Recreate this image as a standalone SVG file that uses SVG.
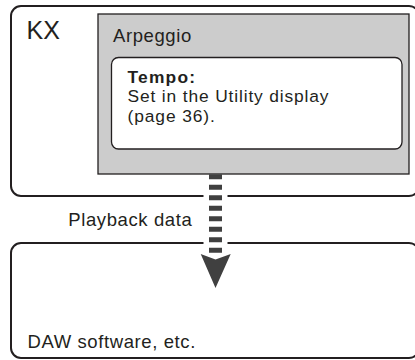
<svg xmlns="http://www.w3.org/2000/svg" width="415" height="360" viewBox="0 0 415 360">
<style>
.box{fill:#ffffff;stroke:#231f20;stroke-width:2}
.grey{fill:#cccccc;stroke:#231f20;stroke-width:1.3}
.inner{fill:#ffffff;stroke:#231f20;stroke-width:1.3}
text{font-family:"Liberation Sans",Arial,sans-serif;fill:#231f20;font-size:18.5px;letter-spacing:0.6px}
.big{font-size:25px;letter-spacing:0}
.t{font-size:17.4px;letter-spacing:0.9px}
.b{font-weight:bold;letter-spacing:1.2px}
</style>
<rect width="415" height="360" fill="#ffffff"/>
<g id="kx">
<rect class="box" x="11" y="6" width="408" height="190" rx="10"/>
<text class="big" x="26.5" y="39">KX</text>
</g>
<g id="arpeggio">
<rect class="grey" x="98" y="14" width="311" height="160"/>
<text x="113" y="41.7">Arpeggio</text>
</g>
<g id="tempo">
<rect class="inner" x="111.5" y="57.5" width="290.5" height="91.5" rx="7"/>
<text class="t b" x="127.5" y="82.5">Tempo:</text>
<text class="t" x="127.5" y="102" style="letter-spacing:0.85px">Set in the Utility display</text>
<text class="t" x="127.5" y="121.5">(page 36).</text>
</g>
<g id="daw">
<rect class="box" x="11" y="243" width="408" height="115" rx="10"/>
<text x="27.5" y="347.7">DAW software, etc.</text>
</g>
<g id="connectors">
<line x1="215.5" y1="175" x2="215.5" y2="253" stroke="#ffffff" stroke-width="24"/>
<line x1="215.5" y1="174.3" x2="215.5" y2="253.5" stroke="#404040" stroke-width="13" stroke-dasharray="5 5.5"/>
<polygon points="200.7,254 215.5,259.5 230.7,254 215.5,288" fill="#404040"/>
<text x="68.3" y="225.7">Playback data</text>
</g>
</svg>
